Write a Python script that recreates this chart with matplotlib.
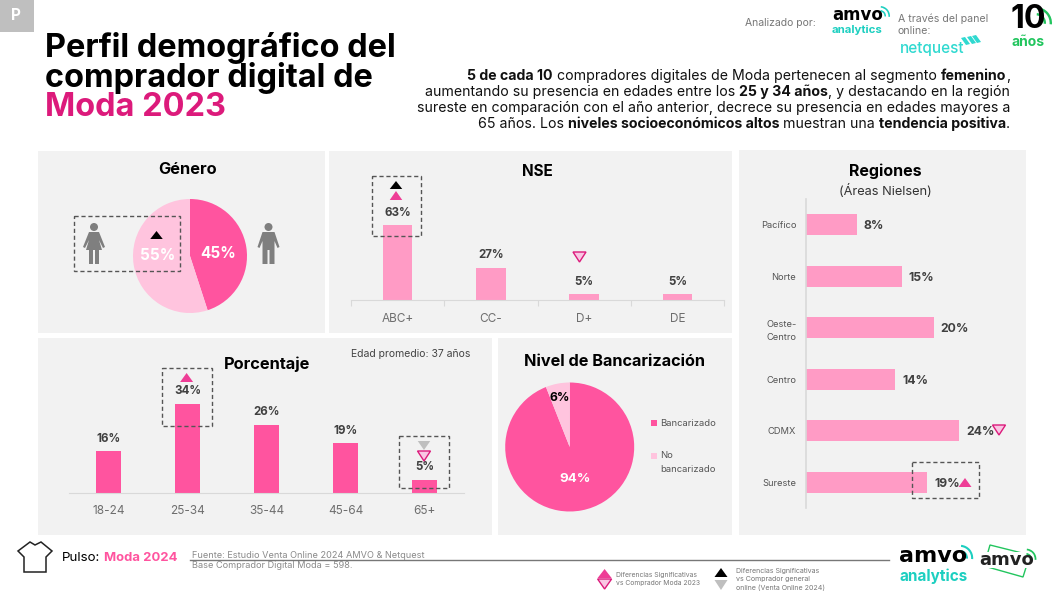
import matplotlib
matplotlib.use("Agg")
import matplotlib.pyplot as plt
from matplotlib.patches import Rectangle, Polygon, Circle, Wedge

plt.rcParams['font.family'] = ['Inter', 'DejaVu Sans']

W, H = 1062, 593
gender_labels = ['Mujer', 'Hombre']
gender_values = [55, 45]
nse_cats = ['ABC+', 'CC-', 'D+', 'DE']
nse_values = [63, 27, 5, 5]
age_cats = ['18-24', '25-34', '35-44', '45-64', '65+']
age_values = [16, 34, 26, 19, 5]
region_cats = ['Pacífico', 'Norte', 'Oeste-\nCentro', 'Centro', 'CDMX', 'Sureste']
region_values = [8, 15, 20, 14, 24, 19]
bank_cats = ['Bancarizado', 'No\nbancarizado']
bank_values = [94, 6]

DARK, MID, LIGHT = '#FF549F', '#FF9BC5', '#FFC4DE'
PANEL, MAG, TRI = '#F2F2F2', '#DC1A7B', '#EE3D96'
TEAL, GREEN = '#1CCFC0', '#22C55E'
LBL, TICK = '#404040', '#6E6E6E'

fig = plt.figure(figsize=(W / 100, H / 100), dpi=100, facecolor='white')


def overlay(z):
    a = fig.add_axes([0, 0, 1, 1], zorder=z)
    a.set_xlim(0, W)
    a.set_ylim(H, 0)
    a.axis('off')
    a.patch.set_alpha(0)
    return a


def px_axes(x0, y0, x1, y1, z=2):
    a = fig.add_axes([x0 / W, 1 - y1 / H, (x1 - x0) / W, (y1 - y0) / H], zorder=z)
    a.patch.set_alpha(0)
    return a


bg = overlay(0)
fg = overlay(10)

for x0, y0, x1, y1 in [(38, 151, 325, 333), (329, 151, 732, 333), (739, 150, 1026, 535),
                       (38, 338, 492, 535), (498, 338, 732, 535)]:
    bg.add_patch(Rectangle((x0, y0), x1 - x0, y1 - y0, fc=PANEL, ec='none'))
bg.add_patch(Rectangle((0, 0), 34, 32, fc='#BFBFBF', ec='none'))
bg.text(16, 15, 'P', color='white', fontsize=11, fontweight='bold', ha='center', va='center')


def T(x, y, s, size=8, color='black', weight='normal', ha='center', va='center', **k):
    return fg.text(x, y, s, fontsize=size, color=color, fontweight=weight, ha=ha, va=va, **k)


def tri(x, y0, y1, w, up=True, fc=TRI, ec='none', lw=1.0):
    pts = [(x - w / 2, y1), (x + w / 2, y1), (x, y0)] if up else [(x - w / 2, y0), (x + w / 2, y0), (x, y1)]
    fg.add_patch(Polygon(pts, closed=True, fc=fc, ec=ec, lw=lw, zorder=6))


def box(x0, y0, x1, y1):
    fg.add_patch(Rectangle((x0, y0), x1 - x0, y1 - y0, fc='none', ec='#555555', lw=1.0,
                           ls=(0, (3, 2)), zorder=5))


# Title
for y, s, c in [(48, 'Perfil demográfico del', 'black'), (78, 'comprador digital de', 'black'),
                (107, 'Moda 2023', MAG)]:
    T(45, y, s, size=23.4, color=c, weight='bold', ha='left')

# Body paragraph, right aligned with bold runs
renderer = fig.canvas.get_renderer()
body = [
    (76, [('5 de cada 10', 1), (' compradores digitales de Moda pertenecen al segmento ', 0), ('femenino', 1), (',', 0)]),
    (92, [('aumentando su presencia en edades entre los ', 0), ('25 y 34 años', 1), (', y destacando en la región', 0)]),
    (108, [('sureste en comparación con el año anterior, decrece su presencia en edades mayores a', 0)]),
    (124, [('65 años. Los ', 0), ('niveles socioeconómicos altos', 1), (' muestran una ', 0), ('tendencia positiva', 1), ('.', 0)]),
]
for y, runs in body:
    xr = 1010.0
    for s, b in reversed(runs):
        t = T(xr, y, s.replace(' ', '\u00a0'), size=10.2, weight='bold' if b else 'normal', ha='right',
              color='#111111')
        xr -= t.get_window_extent(renderer).width

# Panel titles
T(188, 170, 'Género', 11.8, weight='bold')
T(537, 171, 'NSE', 11, weight='bold')
T(885, 171, 'Regiones', 11.5, weight='bold')
T(885, 191, '(Áreas Nielsen)', 9.2, color='#333333')
T(267, 364, 'Porcentaje', 11.8, weight='bold')
T(615, 361, 'Nivel de Bancarización', 11.7, weight='bold')
T(351, 354, 'Edad promedio: 37 años', 7.5, color='#444444', ha='left')

# Gender pie
r = 57
ax = px_axes(190 - r, 256 - r, 190 + r, 256 + r)
ax.pie(gender_values[::-1], colors=[DARK, LIGHT], startangle=90, counterclock=False, radius=1)
ax.set_xlim(-1, 1)
ax.set_ylim(-1, 1)
T(218, 253, f'{gender_values[1]}%', 11, color='white', weight='bold')
T(158, 256, f'{gender_values[0]}%', 11, color='white', weight='bold')
box(74, 216, 180, 271)
tri(156.5, 231, 239, 12.5, fc='black')

GREY = '#7F7F7F'


def person(cx, female):
    fg.add_patch(Circle((cx, 227), 4, fc=GREY, ec='none', zorder=4))
    if female:
        pts = [(cx - 5, 232), (cx + 5, 232), (cx + 11, 247), (cx + 9, 248), (cx + 5, 240), (cx + 8, 250),
               (cx - 8, 250), (cx - 5, 240), (cx - 9, 248), (cx - 11, 247)]
        fg.add_patch(Polygon(pts, fc=GREY, ec='none', zorder=4))
        fg.add_patch(Rectangle((cx - 5, 250), 4, 14, fc=GREY, ec='none', zorder=4))
        fg.add_patch(Rectangle((cx + 1, 250), 4, 14, fc=GREY, ec='none', zorder=4))
    else:
        pts = [(cx - 6, 232), (cx + 6, 232), (cx + 11, 247), (cx + 9, 248), (cx + 6, 241), (cx + 6, 264),
               (cx + 1, 264), (cx + 1, 250), (cx - 1, 250), (cx - 1, 264), (cx - 6, 264), (cx - 6, 241),
               (cx - 9, 248), (cx - 11, 247)]
        fg.add_patch(Polygon(pts, fc=GREY, ec='none', zorder=4))


person(94, True)
person(268.5, False)

# NSE bars
PX_N = 1.19
top_n, base_n = 170, 300
ax = px_axes(351, top_n, 724, base_n)
ax.bar(range(4), nse_values, width=0.315, color=MID)
ax.set_xlim(-0.5, 3.5)
ax.set_ylim(0, (base_n - top_n) / PX_N)
ax.set_yticks([])
for s in ['top', 'left', 'right']:
    ax.spines[s].set_visible(False)
ax.spines['bottom'].set_color('#D9D9D9')
ax.set_xticks([-0.5, 0.5, 1.5, 2.5, 3.5])
ax.set_xticklabels([])
ax.tick_params(axis='x', length=4, color='#D9D9D9', direction='out')
for i, (c, v) in enumerate(zip(nse_cats, nse_values)):
    ax.annotate(f'{v}%', (i, v), xytext=(0, 9), textcoords='offset points', ha='center', va='center',
                fontsize=8.3, fontweight='bold', color=LBL)
    ax.annotate(c, (i, 0), xytext=(0, -13.5), textcoords='offset points', ha='center', va='center',
                fontsize=8.5, color=TICK, annotation_clip=False)
box(372, 176, 421, 236)
tri(396, 181, 189, 12.5, fc='black')
tri(396, 191, 200, 12.5, fc=TRI)
tri(579.5, 252, 262, 13, up=False, fc='#F9C6E3', ec=MAG)

# Age bars
PX_A = 2.62
top_a, base_a = 350, 493
ax = px_axes(69, top_a, 464, base_a)
ax.bar(range(5), age_values, width=0.316, color=DARK)
ax.set_xlim(-0.5, 4.5)
ax.set_ylim(0, (base_a - top_a) / PX_A)
ax.set_yticks([])
ax.set_xticks([])
for s in ['top', 'left', 'right']:
    ax.spines[s].set_visible(False)
ax.spines['bottom'].set_color('#D9D9D9')
for i, (c, v) in enumerate(zip(age_cats, age_values)):
    ax.annotate(f'{v}%', (i, v), xytext=(0, 9), textcoords='offset points', ha='center', va='center',
                fontsize=8.3, fontweight='bold', color=LBL)
    ax.annotate(c, (i, 0), xytext=(0, -13), textcoords='offset points', ha='center', va='center',
                fontsize=8.5, color=TICK, annotation_clip=False)
box(161.6, 368, 211.6, 426)
tri(186.6, 373, 382, 13, fc=TRI)
box(399, 436, 449, 488)
tri(424, 441, 450, 12.5, up=False, fc='#BFBFBF')
tri(424, 451, 461, 13, up=False, fc='#F9C6E3', ec=MAG)

# Bank pie
r = 64.5
ax = px_axes(569.7 - r, 447 - r, 569.7 + r, 447 + r)
ax.pie(bank_values, colors=[DARK, LIGHT], startangle=90, counterclock=False, radius=1)
ax.set_xlim(-1, 1)
ax.set_ylim(-1, 1)
T(575, 479, f'{bank_values[0]}%', 9.6, color='white', weight='bold')
T(560, 398, f'{bank_values[1]}%', 8.8, color='black', weight='bold')
fg.add_patch(Rectangle((651, 420), 6, 6, fc=DARK, ec='none'))
fg.add_patch(Rectangle((651, 453), 6, 6, fc=LIGHT, ec='none'))
T(660, 423, bank_cats[0], 6.8, color='#555555', ha='left')
T(660, 456, bank_cats[1].split('\n')[0], 6.8, color='#555555', ha='left')
T(660, 469, bank_cats[1].split('\n')[1], 6.8, color='#555555', ha='left')

# Region bars
PX_R = 6.38
ax = px_axes(806, 199, 1018, 508)
ax.barh(range(6), region_values, height=0.41, color=MID)
ax.set_ylim(5.5, -0.5)
ax.set_xlim(0, (1018 - 806) / PX_R)
ax.set_xticks([])
ax.set_yticks(range(6))
ax.set_yticklabels(region_cats, fontsize=6.7, color='#555555', linespacing=1.6)
ax.tick_params(axis='y', length=0, pad=7)
for s in ['top', 'bottom', 'right']:
    ax.spines[s].set_visible(False)
ax.spines['left'].set_color('#D9D9D9')
ax.spines['left'].set_linewidth(1.2)
for i, v in enumerate(region_values):
    ax.annotate(f'{v}%', (v, i), xytext=(5, -1), textcoords='offset points', ha='left', va='center',
                fontsize=8.8, fontweight='bold', color=LBL)
tri(999, 425, 435, 13, up=False, fc='#F9C6E3', ec=MAG)
box(912, 462, 979, 498)
tri(965, 478, 487, 13, fc=TRI)

# Footer
shirt = [(30, 542), (35, 545), (41, 542), (52, 551), (46, 557), (46, 572), (24, 572), (24, 557), (18, 551)]
fg.add_patch(Polygon(shirt, closed=True, fc='white', ec='#222222', lw=1.1))
T(62, 558, 'Pulso:', 9.6, ha='left')
T(104, 558, 'Moda 2024', 9.4, color=DARK, weight='bold', ha='left')
fg.plot([190, 889], [560, 560], color='#777777', lw=1)
T(192, 556, 'Fuente: Estudio Venta Online 2024 AMVO & Netquest', 6.6, color='#8A8A8A', ha='left')
T(192, 566, 'Base Comprador Digital Moda = 598.', 6.6, color='#8A8A8A', ha='left')

tri(604.6, 569, 578, 14, fc=TRI)
tri(604.6, 579, 589, 14, up=False, fc='#F9C6E3', ec=MAG)
T(616, 575, 'Diferencias Significativas', 4.9, color='#777777', ha='left')
T(616, 583, 'vs Comprador Moda 2023', 4.9, color='#777777', ha='left')
tri(721, 568, 577, 13, fc='black')
tri(721, 580, 590, 13, up=False, fc='#BFBFBF')
T(736, 571, 'Diferencias Significativas', 5.1, color='#777777', ha='left')
T(736, 579, 'vs Comprador general', 5.1, color='#777777', ha='left')
T(736, 588, 'online (Venta Online 2024)', 5.1, color='#777777', ha='left')

# Header text and logos
T(745, 23, 'Analizado por:', 7.5, color='#777777', ha='left')
T(898, 19, 'A través del panel', 7.6, color='#777777', ha='left')
T(898, 31, 'online:', 7.6, color='#777777', ha='left')


def arcs(cx, cy, r0, color, dr=3.0, n=2):
    for k in range(n):
        fg.add_patch(Wedge((cx, cy), r0 + k * 2 * dr, -85, 5, width=dr * 0.8, fc=color, ec='none'))


def logo(x, y, size, color='black'):
    T(x, y, 'amvo', size, color=color, weight='bold', ha='left', family=['DejaVu Sans'])


logo(832, 15, 12)
arcs(880, 16, 6, TEAL, 2.0)
T(832, 30, 'analytics', 8.2, color=TEAL, weight='bold', ha='left')
T(900, 49, 'netquest', 11, color='#2FD9D0', weight='medium', ha='left')
for dx, dy in [(0, 0), (6, -1), (11, -2)]:
    fg.add_patch(Polygon([(961 + dx, 38 + dy), (965 + dx, 37 + dy), (970 + dx, 44 + dy), (966 + dx, 45 + dy)],
                         fc='#2FD9D0', ec='none'))
T(1010, 20, '10', 23, weight='bold', ha='left')
arcs(1036, 23, 10, GREEN, 3.0)
T(1028, 42, 'años', 10, color=GREEN, weight='bold')

logo(899, 556, 16)
arcs(960, 558, 8, TEAL, 2.6)
T(899, 576, 'analytics', 11, color=TEAL, weight='bold', ha='left')
fg.add_patch(Polygon([(990, 545), (1030, 555), (1023, 577), (984, 566)], closed=True, fc='none', ec=GREEN, lw=1))
fg.add_patch(Rectangle((978, 552), 58, 16, fc='white', ec='none'))
logo(979, 560, 13, '#222222')
arcs(1026, 559, 6, GREEN, 2.2)

fig.savefig('out.png', dpi=100, facecolor='white')
